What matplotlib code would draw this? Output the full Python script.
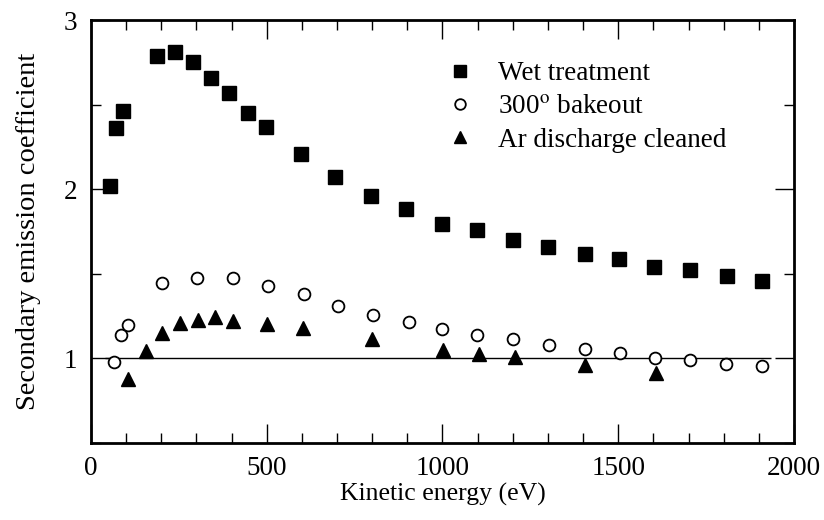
import numpy as np
from matplotlib import pyplot as plt
from matplotlib.ticker import MultipleLocator

plt.rcParams['font.family'] = ['Liberation Serif', 'DejaVu Serif']
plt.rcParams['mathtext.fontset'] = 'stix'

# Wet treatment (filled squares)
wet_x = [54, 71, 92, 189, 240, 289, 341, 392, 448, 497, 597, 695, 798, 896,
         999, 1098, 1200, 1299, 1404, 1503, 1603, 1705, 1809, 1908]
wet_y = [2.02, 2.36, 2.465, 2.786, 2.81, 2.75, 2.656, 2.568, 2.45, 2.365, 2.21, 2.07, 1.96, 1.885,
         1.796, 1.76, 1.70, 1.66, 1.615, 1.59, 1.54, 1.52, 1.49, 1.46]

# 300 deg bakeout (open circles)
bake_x = [66, 86, 106, 201, 302, 403, 504, 605, 704, 802, 904,
          999, 1098, 1202, 1304, 1404, 1504, 1605, 1704, 1807, 1910]
bake_y = [0.978, 1.137, 1.20, 1.448, 1.476, 1.476, 1.427, 1.38, 1.31, 1.255, 1.216,
          1.173, 1.136, 1.112, 1.079, 1.053, 1.03, 1.0, 0.99, 0.969, 0.955]

# Ar discharge cleaned (filled triangles)
ar_x = [106, 157, 202, 254, 304, 353, 403, 501, 603, 800, 1002, 1104, 1206, 1404, 1607]
ar_y = [0.876, 1.045, 1.15, 1.21, 1.228, 1.244, 1.22, 1.202, 1.18, 1.116,
        1.05, 1.025, 1.006, 0.963, 0.913]

fig = plt.figure(figsize=(8.24, 5.2), dpi=100)
ax = fig.add_axes([0.1104, 0.148, 0.8532, 0.8135])

ax.hlines(1.0, 40, 1935, color='k', lw=1)
ax.plot(wet_x, wet_y, 's', color='k', ms=9.5, lw=0, label='Wet treatment')
ax.plot(bake_x, bake_y, 'o', mfc='white', mec='k', mew=1.3, ms=8.5, lw=0,
        label='300$^{\\rm o}$ bakeout')
ax.plot(ar_x, ar_y, '^', color='k', ms=9.5, lw=0, label='Ar discharge cleaned')

ax.set_xlim(0, 2000)
ax.set_ylim(0.5, 3)
ax.xaxis.set_major_locator(MultipleLocator(500))
ax.xaxis.set_minor_locator(MultipleLocator(100))
ax.yaxis.set_major_locator(MultipleLocator(1))
ax.yaxis.set_minor_locator(MultipleLocator(0.5))
ax.tick_params(which='both', direction='in', top=True, right=True, labelsize=19.5, width=1)
ax.tick_params(axis='x', pad=9)
ax.tick_params(axis='y', pad=10)
ax.tick_params(which='major', length=14)
ax.tick_params(which='minor', length=7)
for s in ax.spines.values():
    s.set_linewidth(2)

ax.set_xlabel('Kinetic energy (eV)', fontsize=18.5, labelpad=2)
ax.set_ylabel('Secondary emission coefficient', fontsize=20.5, labelpad=16)

ax.legend(loc='upper left', bbox_to_anchor=(0.452, 0.96), frameon=False, fontsize=19.5,
          handletextpad=0.4, labelspacing=0.3, markerscale=0.9)

plt.savefig('out.png', dpi=100)
